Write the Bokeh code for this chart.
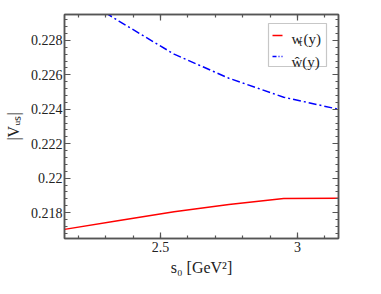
import math
from bokeh.plotting import figure
from bokeh.models import (Range1d, SingleIntervalTicker, LinearAxis, CustomJSTickFormatter,
                          Label, BoxAnnotation, Arrow)
from bokeh.embed import file_html
from bokeh.resources import INLINE

# data
s0 = [2.15, 2.35, 2.55, 2.75, 2.95, 3.15]
vus_wtau = [0.21703, 0.21754, 0.21805, 0.21847, 0.21882, 0.21884]
vus_what = [0.2311, 0.2291, 0.2272, 0.2258, 0.2247, 0.2240]
legend_labels = ["w", "τ", "(y)", "ŵ(y)"]
x_title = "s₀ [GeV²]"
y_title = "|Vᵤₛ|"

W, H = 365, 278
FL, FT, FR, FB = 64, 14, 338, 240   # frame edges in picture pixels
FONT = "'Liberation Serif'"
TXT = "#222222"
AX = "#555555"

p = figure(width=W, height=H, output_backend="svg", toolbar_location=None,
           x_range=Range1d(2.15, 3.15), y_range=Range1d(0.2165, 0.2295),
           min_border_left=FL, min_border_right=W - FR, min_border_top=FT,
           min_border_bottom=H - FB,
           x_axis_location=None, y_axis_location=None)
p.grid.visible = False
p.outline_line_color = AX
p.outline_line_width = 1.5
p.background_fill_color = "white"
p.border_fill_color = "white"

fmt = CustomJSTickFormatter(code="return parseFloat(tick.toFixed(4)).toString();")

def make_axis(kind, show_labels, title=None):
    if kind == "x":
        t = SingleIntervalTicker(interval=0.5, num_minor_ticks=5)
    else:
        t = SingleIntervalTicker(interval=0.002, num_minor_ticks=5)
    ax = LinearAxis(ticker=t, formatter=fmt)
    ax.axis_line_color = AX
    ax.axis_line_width = 1.5
    ax.major_tick_in = 6
    ax.major_tick_out = 0
    ax.minor_tick_in = 3
    ax.minor_tick_out = 0
    ax.major_tick_line_color = AX
    ax.minor_tick_line_color = AX
    ax.major_tick_line_width = 1.2
    ax.minor_tick_line_width = 1.2
    ax.major_label_text_font = FONT
    ax.major_label_text_font_size = "14px"
    ax.major_label_text_color = TXT
    ax.major_label_standoff = 3 if kind == "x" else 2
    if title is not None:
        ax.axis_label = title
        ax.axis_label_text_font = FONT
        ax.axis_label_text_font_size = "16px"
        ax.axis_label_text_font_style = "normal"
        ax.axis_label_text_color = TXT
        ax.axis_label_standoff = 4 if kind == "x" else 6
    if not show_labels:
        ax.major_label_text_color = None
        ax.major_label_text_font_size = "1px"
    return ax

p.add_layout(make_axis("x", True, x_title), "below")
p.add_layout(make_axis("x", False), "above")
p.add_layout(make_axis("y", True, y_title), "left")
p.add_layout(make_axis("y", False), "right")

p.line(s0, vus_wtau, line_color="#ff0000", line_width=1.5)
p.line(s0, vus_what, line_color="#0000ff", line_width=1.5, line_dash="8 3 2 3")

# screen units here are measured from the frame's left and bottom edges
def fx(xp):
    return xp - FL

def fy(yp):
    return FB - yp

def lab(xp, yp, text, size):
    p.add_layout(Label(x=fx(xp), y=fy(yp), x_units="screen", y_units="screen", text=text,
                       text_font=FONT, text_font_size=size, text_color=TXT,
                       text_align="left", text_baseline="alphabetic"))

# legend
p.add_layout(BoxAnnotation(left=fx(268), right=fx(326), top=fy(25), bottom=fy(68),
                           left_units="screen", right_units="screen",
                           top_units="screen", bottom_units="screen",
                           fill_color="white", fill_alpha=1.0,
                           line_color="#444444", line_width=1.2))
p.add_layout(Arrow(end=None, x_start=fx(272), y_start=fy(37), x_end=fx(282), y_end=fy(37),
                   start_units="screen", end_units="screen",
                   line_color="#ff0000", line_width=1.5))
p.add_layout(Arrow(end=None, x_start=fx(272), y_start=fy(58), x_end=fx(282), y_end=fy(58),
                   start_units="screen", end_units="screen",
                   line_color="#0000ff", line_width=1.5, line_dash="4 2 1 2"))
lab(291, 40, legend_labels[0], "15px")
lab(298, 44, legend_labels[1], "10px")
lab(303, 40, legend_labels[2], "15px")
lab(291, 63, legend_labels[3], "15px")

open("out.html", "w").write(file_html(p, INLINE))
